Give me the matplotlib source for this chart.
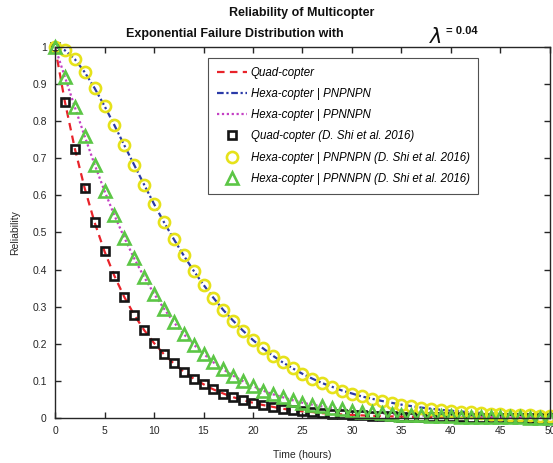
import matplotlib
matplotlib.use('Agg')
import matplotlib.pyplot as plt

plt.rcParams['font.family'] = ['Liberation Sans', 'DejaVu Sans']

# time axis (hours)
hours = list(range(0, 51))

# reliability, one value per hour
quad = [1.0, 0.852, 0.726, 0.619, 0.527, 0.449, 0.383, 0.326, 0.278, 0.237,
        0.202, 0.172, 0.147, 0.125, 0.106, 0.091, 0.077, 0.066, 0.056, 0.048,
        0.041, 0.035, 0.030, 0.025, 0.021, 0.018, 0.016, 0.013, 0.011, 0.0097,
        0.0082, 0.0070, 0.0060, 0.0051, 0.0043, 0.0037, 0.0032, 0.0027, 0.0023, 0.0020,
        0.0017, 0.0014, 0.0012, 0.0010, 0.0009, 0.0007, 0.0006, 0.0005, 0.0005, 0.0004,
        0.0003]

hexa_pnpnpn = [1.0, 0.991, 0.967, 0.932, 0.889, 0.841, 0.789, 0.735, 0.682, 0.629,
               0.577, 0.528, 0.482, 0.438, 0.397, 0.359, 0.324, 0.291, 0.262, 0.235,
               0.210, 0.188, 0.168, 0.150, 0.134, 0.119, 0.106, 0.094, 0.084, 0.074,
               0.066, 0.058, 0.052, 0.046, 0.041, 0.036, 0.032, 0.028, 0.025, 0.022,
               0.0195, 0.0174, 0.0153, 0.0136, 0.0120, 0.0106, 0.0094, 0.0083, 0.0073, 0.0064,
               0.0057]

hexa_ppnnpn = [1.0, 0.919, 0.838, 0.759, 0.683, 0.612, 0.546, 0.486, 0.430, 0.380,
               0.335, 0.295, 0.258, 0.226, 0.198, 0.173, 0.150, 0.131, 0.114, 0.099,
               0.086, 0.074, 0.064, 0.056, 0.048, 0.041, 0.036, 0.031, 0.027, 0.023,
               0.020, 0.017, 0.015, 0.0126, 0.0108, 0.0093, 0.0080, 0.0068, 0.0059, 0.0050,
               0.0043, 0.0037, 0.0032, 0.0027, 0.0023, 0.0020, 0.0017, 0.0015, 0.0012, 0.0011,
               0.0009]

labels_line = ["Quad-copter", "Hexa-copter | PNPNPN", "Hexa-copter | PPNNPN"]
labels_mark = ["Quad-copter (D. Shi et al. 2016)",
               "Hexa-copter | PNPNPN (D. Shi et al. 2016)",
               "Hexa-copter | PPNNPN (D. Shi et al. 2016)"]

axis_col = '#262626'

fig = plt.figure(figsize=(5.53, 4.63), dpi=100)
ax = fig.add_axes([0.0995, 0.0972, 0.895, 0.8013])

# analytic curves
ax.plot(hours, quad, color='#e8232a', linestyle=(0, (3.4, 2.4)), linewidth=1.6,
        label=labels_line[0])
ax.plot(hours, hexa_pnpnpn, color='#2a3aa8', linestyle=(0, (3.0, 1.2, 1.0, 1.2)),
        linewidth=1.6, label=labels_line[1])
ax.plot(hours, hexa_ppnnpn, color='#c440c4', linestyle=(0, (1.0, 1.2)), linewidth=1.6,
        label=labels_line[2])

# reference data points
ax.plot(hours, quad, linestyle='none', marker='s', markersize=6,
        markerfacecolor='none', markeredgecolor='#151515', markeredgewidth=1.9,
        clip_on=False, label=labels_mark[0])
ax.plot(hours, hexa_pnpnpn, linestyle='none', marker='o', markersize=8,
        markerfacecolor='none', markeredgecolor='#e6e21a', markeredgewidth=1.9,
        clip_on=False, label=labels_mark[1])
ax.plot(hours, hexa_ppnnpn, linestyle='none', marker='^', markersize=9,
        markerfacecolor='none', markeredgecolor='#5cc646', markeredgewidth=1.9,
        clip_on=False, label=labels_mark[2])

ax.set_xlim(0, 50)
ax.set_ylim(0, 1)
ax.set_xticks(range(0, 51, 5))
ax.set_yticks([i / 10 for i in range(11)])
ax.set_yticklabels(['0', '0.1', '0.2', '0.3', '0.4', '0.5', '0.6', '0.7', '0.8', '0.9', '1'])
ax.tick_params(direction='in', length=4, width=1.0, colors=axis_col, labelsize=7.5,
               top=True, right=True, pad=6)
for sp in ax.spines.values():
    sp.set_color(axis_col)
    sp.set_linewidth(1.0)

ax.set_xlabel("Time (hours)", fontsize=7.5, color=axis_col, labelpad=10)
ax.set_ylabel("Reliability", fontsize=7.5, color=axis_col, labelpad=9)

leg = ax.legend(loc='upper left', bbox_to_anchor=(0.309, 0.97), borderaxespad=0,
                prop={'style': 'italic', 'size': 8.3}, frameon=True, fancybox=False,
                edgecolor=axis_col, handlelength=2.6, labelspacing=0.8,
                borderpad=0.75, handletextpad=0.35)
leg.get_frame().set_linewidth(0.8)

# title, two lines like the original
fig.text(0.546, 0.972, "Reliability of Multicopter", ha='center', va='center',
         fontsize=9, fontweight='bold', color='#111111')
fig.text(0.425, 0.926, "Exponential Failure Distribution with", ha='center', va='center',
         fontsize=9, fontweight='bold', color='#111111')
fig.text(0.788, 0.921, r"$\lambda$", ha='center', va='center', fontsize=15,
         color='#111111')
fig.text(0.806, 0.933, "= 0.04", ha='left', va='center', fontsize=8,
         fontweight='bold', color='#111111')

fig.savefig("out.png", dpi=100)
